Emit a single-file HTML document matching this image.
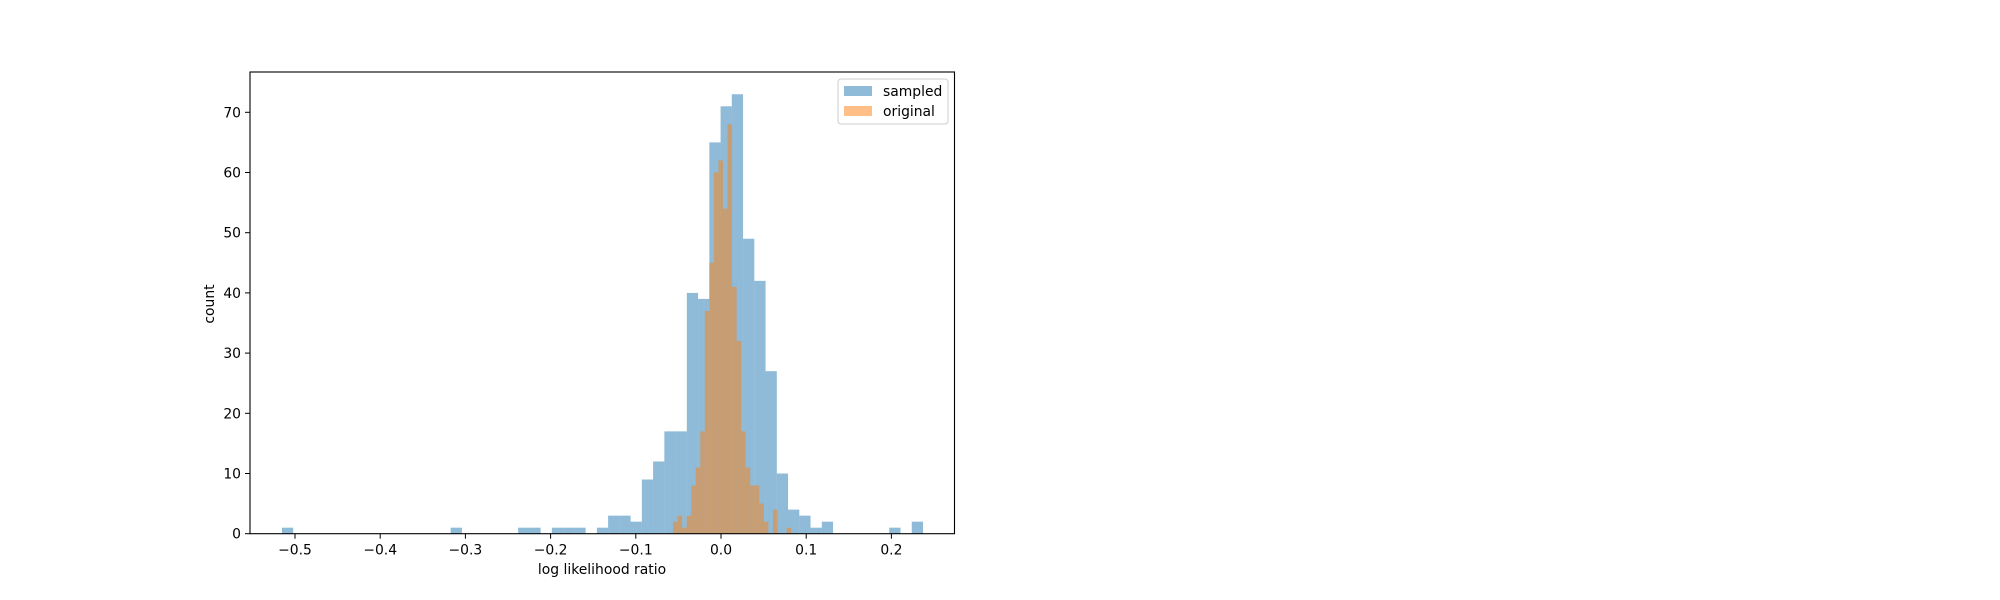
<!DOCTYPE html>
<html><head><meta charset="utf-8"><style>
html,body{margin:0;padding:0;background:#fff;}
svg{display:block;font-family:"DejaVu Sans","Liberation Sans",sans-serif;}
</style></head><body>
<svg id="chart" width="2000" height="600" xmlns="http://www.w3.org/2000/svg">
<rect width="2000" height="600" fill="#fff"/>
<g id="bars"></g>
<g id="axes"></g>
<text x="602" y="574" font-size="13.9" text-anchor="middle">log likelihood ratio</text>
<text x="0" y="0" font-size="13.9" text-anchor="middle" transform="translate(214,304) rotate(-90)">count</text>
<g>
<rect x="838" y="79" width="110" height="45" rx="3" fill="#fff" fill-opacity="0.8" stroke="#ccc"/>
<rect x="844" y="86" width="28" height="10" fill="#1f77b4" fill-opacity="0.5"/>
<text x="883" y="96" font-size="13.9">sampled</text>
<rect x="844" y="106" width="28" height="10" fill="#ff7f0e" fill-opacity="0.5"/>
<text x="883" y="116" font-size="13.9">original</text>
</g>
</svg>
<script>
const sampledStart = -0.5153;
const sampledWidth = 0.0132;
const sampledCounts = [1,0,0,0,0,0,0,0,0,0,0,0,0,0,0,1,0,0,0,0,0,1,1,0,1,1,1,0,1,3,3,2,9,12,17,17,40,39,65,71,73,49,42,27,10,4,3,1,2,0,0,0,0,0,1,0,2];
const originalStart = -0.0563;
const originalWidth = 0.00533;
const originalCounts = [2,3,1,3,8,11,17,37,45,60,62,54,68,41,32,17,11,8,8,5,2,0,4,0,0,1];
const xTicks = [-0.5,-0.4,-0.3,-0.2,-0.1,0.0,0.1,0.2];
const xTickLabels = ["\u22120.5","\u22120.4","\u22120.3","\u22120.2","\u22120.1","0.0","0.1","0.2"];
const yTicks = [0,10,20,30,40,50,60,70];

const L=250,R=954.5,T=72,B=533.7;
function xs(v){return 721+v*852;}
function ys(v){return B-v*6.02;}
const NS="http://www.w3.org/2000/svg";
const bars=document.getElementById('bars');
function drawHist(start,w,counts,color,name){
  counts.forEach((c,i)=>{
    if(!c) return;
    const x0=xs(start+i*w), x1=xs(start+(i+1)*w);
    const r=document.createElementNS(NS,'rect');
    r.setAttribute('x',x0);r.setAttribute('width',x1-x0);
    r.setAttribute('y',ys(c));r.setAttribute('height',B-ys(c));
    r.setAttribute('fill',color);r.setAttribute('fill-opacity','0.5');
    
    
    r.setAttribute('class',name);
    bars.appendChild(r);
  });
}
drawHist(sampledStart,sampledWidth,sampledCounts,'#1f77b4','sampled');
drawHist(originalStart,originalWidth,originalCounts,'#ff7f0e','original');

const ax=document.getElementById('axes');
let h='<rect x="'+L+'" y="'+T+'" width="'+(R-L)+'" height="'+(B-T)+'" fill="none" stroke="#000" stroke-width="1.1"/>';
xTicks.forEach((v,i)=>{const x=xs(v);
 h+='<line x1="'+x+'" x2="'+x+'" y1="'+B+'" y2="'+(B+5)+'" stroke="#000"/>';
 h+='<text x="'+x+'" y="'+(B+21)+'" font-size="13.9" text-anchor="middle">'+xTickLabels[i]+'</text>';});
yTicks.forEach(v=>{const y=ys(v);
 h+='<line x1="'+(L-5)+'" x2="'+L+'" y1="'+y+'" y2="'+y+'" stroke="#000"/>';
 h+='<text x="'+(L-9)+'" y="'+(y+5)+'" font-size="13.9" text-anchor="end">'+v+'</text>';});
ax.innerHTML=h;
</script>
</body></html>
